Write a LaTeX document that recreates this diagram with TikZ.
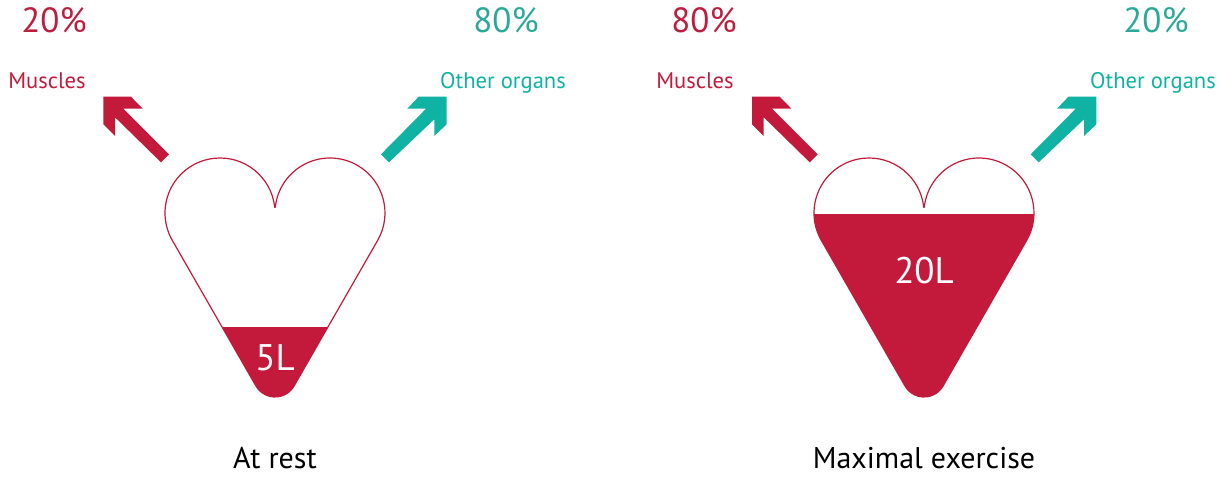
\documentclass[tikz,border=0pt]{standalone}
\usepackage{fontspec}
\setmainfont{PT Sans}
\definecolor{crim}{HTML}{C31A3B}
\definecolor{crimt}{HTML}{BE1E3D}
\definecolor{teal1}{HTML}{10B3A3}
\definecolor{teal2}{HTML}{2BA898}
\tikzset{
  pct/.style={anchor=base,inner sep=0pt,font=\fontsize{35}{35}\selectfont},
  lab/.style={anchor=base,inner sep=0pt,font=\fontsize{22.6}{22.6}\selectfont},
  captxt/.style={anchor=base,inner sep=0pt,text=black,font=\fontsize{30}{30}\selectfont},
  vol/.style={anchor=base,inner sep=0pt,text=white,font=\fontsize{37}{37}\selectfont},
  heartline/.style={draw=crim,line width=1.2pt,line join=round},
}
\newcommand{\heartpath}{(-0.3,272.75) -- (0,273) -- (-0.3,272.75) arc[start angle=6,end angle=210,radius=55] -- (-19.05,94) arc[start angle=210,end angle=330,radius=22] -- (102.6,239.5) arc[start angle=-30,end angle=174,radius=55] -- cycle}
\newcommand{\leftarrowshape}{(169,154.3) -- (123.3,108.7) -- (142.7,108.7) -- (131,96.7) -- (103.3,96.7) -- (103.3,124.3) -- (115,136) -- (115,117.3) -- (161,162.3) -- cycle}
\newcommand{\rightarrowshape}{(381,154.3) -- (426,108.7) -- (407.3,108.7) -- (418.7,96.7) -- (446.7,96.7) -- (446.7,124.3) -- (434.3,136) -- (434.3,119.3) -- (389,162.3) -- cycle}
\begin{document}
\begin{tikzpicture}[x=1pt,y=1pt]
\useasboundingbox (0,0) rectangle (1230,480);
% left heart
\begin{scope}[shift={(275,0)}]
  \begin{scope}
    \clip \heartpath;
    \fill[crim] (-120,0) rectangle (120,153);
  \end{scope}
  \draw[heartline] \heartpath;
\end{scope}
% right heart
\begin{scope}[shift={(924,0)}]
  \begin{scope}
    \clip \heartpath;
    \fill[crim] (-120,0) rectangle (120,266);
  \end{scope}
  \draw[heartline] \heartpath;
\end{scope}
% arrows
\begin{scope}[shift={(0,480)},yscale=-1]
  \fill[crim] \leftarrowshape;
  \fill[teal1] \rightarrowshape;
  \begin{scope}[xshift=648.7pt]
    \fill[crim] \leftarrowshape;
  \end{scope}
  \begin{scope}[xshift=649.7pt]
    \fill[teal1] \rightarrowshape;
  \end{scope}
\end{scope}
% texts
\node[pct,text=crimt] (pa) at (54,447) {20\%};
\node[pct,text=teal2] (pb) at (506,447) {80\%};
\node[pct,text=crimt] (pc) at (704,447) {80\%};
\node[pct,text=teal2] (pd) at (1156,447) {20\%};
\node[lab,text=crim] (la) at (47,391.5) {Muscles};
\node[lab,text=teal1] (lb) at (503,391.5) {Other organs};
\node[lab,text=crim] (lc) at (695,391.5) {Muscles};
\node[lab,text=teal1] (ld) at (1153,391.5) {Other organs};
\node[vol] (va) at (275,110) {5L};
\node[vol] (vb) at (924,197) {20L};
\node[captxt] (ca) at (275,12) {At rest};
\node[captxt] (cb) at (924,12) {Maximal exercise};
\end{tikzpicture}
\end{document}
